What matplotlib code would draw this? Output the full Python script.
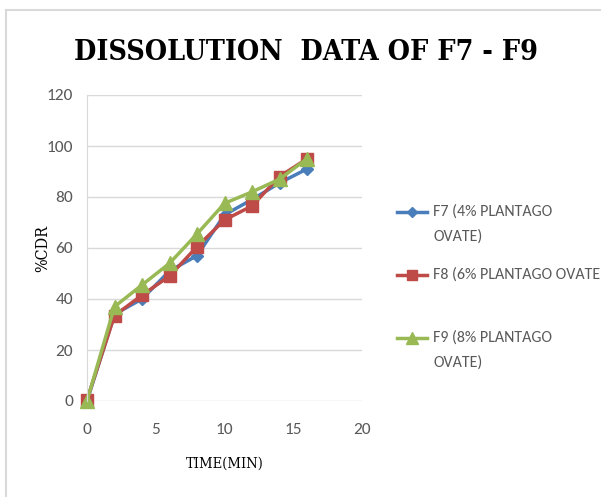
import matplotlib.pyplot as plt
from matplotlib.lines import Line2D

time_min = [0, 2, 4, 6, 8, 10, 12, 14, 16]
f7 = [0, 34, 40, 51, 57, 73, 79, 85.5, 91]
f8 = [0.5, 33.5, 41.5, 49, 60.5, 71, 76.5, 88, 95]
f9 = [0, 37, 45.5, 54, 65.5, 77.5, 82, 87, 95]
labels = ["F7 (4% PLANTAGO\nOVATE)", "F8 (6% PLANTAGO OVATE", "F9 (8% PLANTAGO\nOVATE)"]

x_ticks = [0, 5, 10, 15, 20]
y_ticks = [0, 20, 40, 60, 80, 100, 120]

W, H = 601, 497
fig = plt.figure(figsize=(W / 100, H / 100), dpi=100)
ax = fig.add_axes([87 / W, 1 - 401 / H, (362 - 87) / W, (401 - 95) / H])

styles = [("#4a7ebb", "D", 6), ("#be4b48", "s", 9), ("#98b954", "^", 10)]
for ys, lab, (c, m, ms) in zip([f7, f8, f9], labels, styles):
    ax.plot(time_min, ys, color=c, lw=2.5, marker=m, ms=ms, label=lab,
            solid_joinstyle="round", clip_on=False)

ax.set_xlim(0, 20)
ax.set_ylim(0, 120)
ax.set_xticks(x_ticks)
ax.set_yticks(y_ticks)
ax.grid(axis="y", color="#d9d9d9", lw=1)
ax.set_axisbelow(True)
for s in ["top", "right", "bottom"]:
    ax.spines[s].set_visible(False)
ax.spines["left"].set_color("#d9d9d9")
ax.tick_params(length=0, labelsize=12.5, labelcolor="#595959")
ax.tick_params(axis="x", pad=16)
ax.tick_params(axis="y", pad=10)
for t in ax.get_xticklabels() + ax.get_yticklabels():
    t.set_family("Carlito")

ax.set_xlabel("TIME(MIN)", family="DejaVu Serif", fontstretch="condensed", fontsize=10.5, labelpad=14)
ax.set_ylabel("%CDR", family="DejaVu Serif", fontstretch="condensed", fontsize=11.5, labelpad=-3)

fig.text(306 / W, 1 - 52 / H, "DISSOLUTION  DATA OF F7 - F9", ha="center", va="center",
         family="DejaVu Serif", fontstretch="condensed", weight="bold", fontsize=20.5)

# legend on the right, handle level with the first line of each label
leg_y = [212, 275, 338]
for line, lab, y in zip(ax.lines, labels, leg_y):
    yf = 1 - y / H
    fig.add_artist(Line2D([397 / W, 427 / W], [yf, yf], color=line.get_color(), lw=2.5))
    fig.add_artist(Line2D([412 / W], [yf], marker=line.get_marker(), ms=line.get_markersize() * 0.85,
                          color=line.get_color(), lw=0))
    fig.text(433 / W, 1 - (y - 8) / H, lab, ha="left", va="top", family="Carlito", fontsize=11.5,
             color="#595959", linespacing=2.0)

fig.add_artist(Line2D([6 / W, 6 / W], [0, 1 - 10 / H], color="#d9d9d9", lw=1.5))
fig.add_artist(Line2D([6 / W, 1], [1 - 10 / H, 1 - 10 / H], color="#d9d9d9", lw=1.5))

fig.savefig("out.png", dpi=100)
